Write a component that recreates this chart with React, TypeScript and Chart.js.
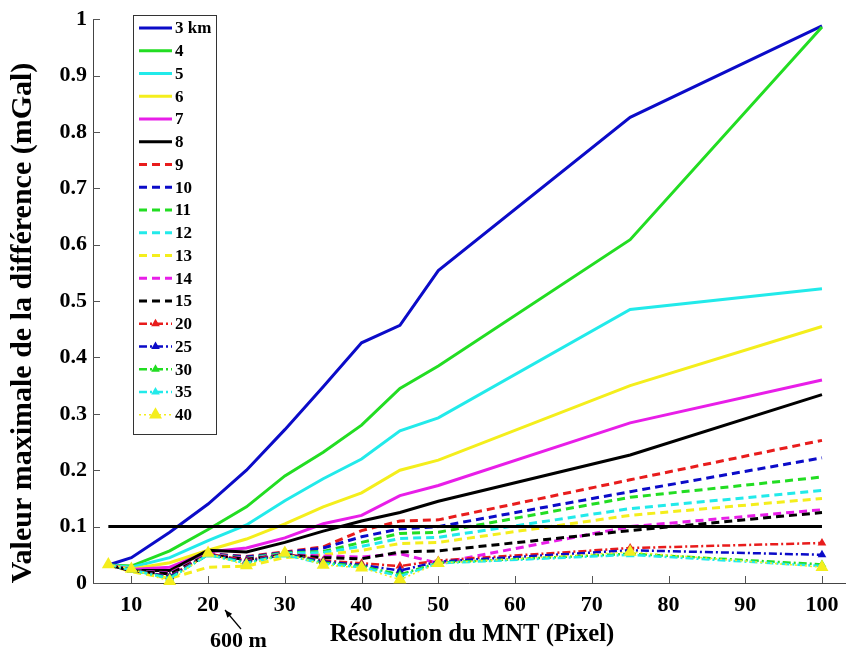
import React, { useEffect, useRef } from "react";
import { Chart, registerables } from "chart.js";

Chart.register(...registerables);

// ---------- data ----------
const resolution = [7, 10, 15, 20, 25, 30, 35, 40, 45, 50, 75, 100];
const xTicks = [10, 20, 30, 40, 50, 60, 70, 80, 90, 100];
const yTicks = [0, 0.1, 0.2, 0.3, 0.4, 0.5, 0.6, 0.7, 0.8, 0.9, 1];
const yTickLabels = ["0", "0.1", "0.2", "0.3", "0.4", "0.5", "0.6", "0.7", "0.8", "0.9", "1"];

const s3km = [0.032, 0.045, 0.09, 0.14, 0.2, 0.272, 0.348, 0.426, 0.457, 0.554, 0.826, 0.988];
const s4 = [0.032, 0.03, 0.057, 0.095, 0.135, 0.19, 0.232, 0.28, 0.345, 0.385, 0.609, 0.986];
const s5 = [0.032, 0.028, 0.045, 0.075, 0.103, 0.146, 0.185, 0.22, 0.27, 0.293, 0.485, 0.522];
const s6 = [0.032, 0.025, 0.036, 0.058, 0.078, 0.105, 0.135, 0.16, 0.2, 0.218, 0.35, 0.455];
const s7 = [0.032, 0.024, 0.028, 0.055, 0.062, 0.08, 0.105, 0.12, 0.155, 0.173, 0.284, 0.36];
const s8 = [0.032, 0.022, 0.022, 0.058, 0.055, 0.072, 0.092, 0.11, 0.125, 0.145, 0.227, 0.334];
const s9 = [0.032, 0.022, 0.018, 0.052, 0.047, 0.055, 0.064, 0.093, 0.11, 0.112, 0.183, 0.253];
const s10 = [0.032, 0.022, 0.017, 0.052, 0.046, 0.054, 0.062, 0.082, 0.096, 0.1, 0.162, 0.222];
const s11 = [0.032, 0.022, 0.016, 0.051, 0.044, 0.053, 0.056, 0.072, 0.088, 0.09, 0.152, 0.188];
const s12 = [0.032, 0.022, 0.016, 0.05, 0.043, 0.052, 0.054, 0.065, 0.079, 0.081, 0.132, 0.164];
const s13 = [0.032, 0.02, 0.008, 0.028, 0.03, 0.045, 0.05, 0.058, 0.07, 0.072, 0.12, 0.15];
const s14 = [0.032, 0.022, 0.017, 0.051, 0.043, 0.05, 0.048, 0.046, 0.052, 0.035, 0.1, 0.13];
const s15 = [0.032, 0.022, 0.016, 0.05, 0.042, 0.05, 0.045, 0.043, 0.055, 0.057, 0.093, 0.125];
const s20 = [0.033, 0.023, 0.012, 0.052, 0.04, 0.052, 0.04, 0.035, 0.03, 0.04, 0.062, 0.071];
const s25 = [0.033, 0.023, 0.011, 0.051, 0.038, 0.051, 0.038, 0.032, 0.022, 0.038, 0.058, 0.05];
const s30 = [0.033, 0.023, 0.009, 0.05, 0.036, 0.05, 0.036, 0.03, 0.015, 0.036, 0.052, 0.033];
const s35 = [0.033, 0.023, 0.008, 0.05, 0.035, 0.05, 0.034, 0.028, 0.012, 0.035, 0.05, 0.03];
const s40 = [0.033, 0.025, 0.003, 0.053, 0.031, 0.053, 0.032, 0.027, 0.006, 0.035, 0.055, 0.028];

const refLineX = [7, 100];
const refLineY = [0.1, 0.1];

const seriesLabels = ["3 km", "4", "5", "6", "7", "8", "9", "10", "11", "12", "13", "14", "15", "20", "25", "30", "35", "40"];
const seriesValues = [s3km, s4, s5, s6, s7, s8, s9, s10, s11, s12, s13, s14, s15, s20, s25, s30, s35, s40];

// ---------- styles ----------
const BLUE = "#0b0bc8";
const GREEN = "#22dd22";
const CYAN = "#22eaea";
const YELLOW = "#f4ee1c";
const MAGENTA = "#e81ee8";
const BLACK = "#000000";
const RED = "#e81c1c";

const FONT = "'Times New Roman', 'Liberation Serif', serif";

type Style = { color: string; dash: number[]; marker: number; width: number };
const SOLID: number[] = [];
const DASH = [8, 5];
const DASHDOT = [8, 3, 2, 3];
const DOT = [2, 3];

const seriesStyles: Style[] = [
  { color: BLUE, dash: SOLID, marker: 0, width: 3 },
  { color: GREEN, dash: SOLID, marker: 0, width: 3 },
  { color: CYAN, dash: SOLID, marker: 0, width: 3 },
  { color: YELLOW, dash: SOLID, marker: 0, width: 3 },
  { color: MAGENTA, dash: SOLID, marker: 0, width: 3 },
  { color: BLACK, dash: SOLID, marker: 0, width: 3 },
  { color: RED, dash: DASH, marker: 0, width: 3 },
  { color: BLUE, dash: DASH, marker: 0, width: 3 },
  { color: GREEN, dash: DASH, marker: 0, width: 3 },
  { color: CYAN, dash: DASH, marker: 0, width: 3 },
  { color: YELLOW, dash: DASH, marker: 0, width: 3 },
  { color: MAGENTA, dash: DASH, marker: 0, width: 3 },
  { color: BLACK, dash: DASH, marker: 0, width: 3 },
  { color: RED, dash: DASHDOT, marker: 5, width: 2.5 },
  { color: BLUE, dash: DASHDOT, marker: 5, width: 2.5 },
  { color: GREEN, dash: DASHDOT, marker: 5, width: 2.5 },
  { color: CYAN, dash: DASHDOT, marker: 5, width: 2.5 },
  { color: YELLOW, dash: DOT, marker: 7.5, width: 1.5 },
];

function drawTriangle(ctx: CanvasRenderingContext2D, x: number, y: number, r: number, color: string) {
  ctx.beginPath();
  let rad = 0;
  const step = (2 * Math.PI) / 3;
  ctx.moveTo(x + Math.sin(rad) * r, y - Math.cos(rad) * r);
  rad += step;
  ctx.lineTo(x + Math.sin(rad) * r, y - Math.cos(rad) * r);
  rad += step;
  ctx.lineTo(x + Math.sin(rad) * r, y - Math.cos(rad) * r);
  ctx.closePath();
  ctx.fillStyle = color;
  ctx.fill();
}

const overlayPlugin = {
  id: "overlay",
  afterDraw(chart: any) {
    const ctx: CanvasRenderingContext2D = chart.ctx;
    const xs = chart.scales.x;
    const ys = chart.scales.y;
    ctx.save();

    // inward tick marks
    ctx.strokeStyle = "#555";
    ctx.lineWidth = 1;
    ctx.setLineDash([]);
    xTicks.forEach((v) => {
      const px = Math.round(xs.getPixelForValue(v)) + 0.5;
      ctx.beginPath();
      ctx.moveTo(px, ys.bottom);
      ctx.lineTo(px, ys.bottom - 7);
      ctx.stroke();
    });
    yTicks.forEach((v) => {
      const py = Math.round(ys.getPixelForValue(v)) + 0.5;
      ctx.beginPath();
      ctx.moveTo(xs.left, py);
      ctx.lineTo(xs.left + 7, py);
      ctx.stroke();
    });

    // axis titles
    ctx.fillStyle = "#000";
    ctx.textAlign = "center";
    ctx.textBaseline = "middle";
    ctx.font = `bold 24.7px ${FONT}`;
    ctx.fillText("Résolution du MNT (Pixel)", 472, 635);

    ctx.save();
    ctx.translate(23, 323);
    ctx.rotate(-Math.PI / 2);
    ctx.font = `bold 30px ${FONT}`;
    ctx.fillText("Valeur maximale de la différence (mGal)", 0, 0);
    ctx.restore();

    // annotation "600 m"
    ctx.font = `bold 22px ${FONT}`;
    ctx.textAlign = "left";
    ctx.fillText("600 m", 210, 641);
    ctx.strokeStyle = "#000";
    ctx.lineWidth = 1.2;
    const tipX = 225, tipY = 610, tailX = 241, tailY = 629;
    ctx.beginPath();
    ctx.moveTo(tailX, tailY);
    ctx.lineTo(tipX, tipY);
    ctx.stroke();
    const ang = Math.atan2(tipY - tailY, tipX - tailX);
    ctx.beginPath();
    ctx.moveTo(tipX, tipY);
    ctx.lineTo(tipX - 8 * Math.cos(ang - 0.4), tipY - 8 * Math.sin(ang - 0.4));
    ctx.lineTo(tipX - 8 * Math.cos(ang + 0.4), tipY - 8 * Math.sin(ang + 0.4));
    ctx.closePath();
    ctx.fillStyle = "#000";
    ctx.fill();

    // legend
    const bx = 133, by = 15, bw = 83, bh = 419;
    ctx.fillStyle = "#fff";
    ctx.fillRect(bx, by, bw, bh);
    ctx.strokeStyle = "#333";
    ctx.lineWidth = 1;
    ctx.strokeRect(bx + 0.5, by + 0.5, bw, bh);
    ctx.font = `bold 17px ${FONT}`;
    ctx.textAlign = "left";
    ctx.textBaseline = "middle";
    seriesLabels.forEach((lab, i) => {
      const st = seriesStyles[i];
      const y = 28 + i * 22.75;
      ctx.save();
      ctx.strokeStyle = st.color;
      ctx.lineWidth = st.width;
      ctx.setLineDash(st.dash);
      ctx.beginPath();
      ctx.moveTo(139, y);
      ctx.lineTo(172, y);
      ctx.stroke();
      ctx.restore();
      if (st.marker > 0) drawTriangle(ctx, 155.5, y, st.marker, st.color);
      ctx.fillStyle = "#000";
      ctx.fillText(lab, 175, y + 1);
    });

    ctx.restore();
  },
};

export default function App() {
  const ref = useRef<HTMLCanvasElement | null>(null);

  useEffect(() => {
    if (!ref.current) return;
    const n = seriesValues.length;
    const datasets: any[] = seriesValues.map((vals, i) => {
      const st = seriesStyles[i];
      return {
        label: seriesLabels[i],
        data: resolution.map((x, k) => ({ x, y: vals[k] })),
        borderColor: st.color,
        backgroundColor: st.color,
        borderWidth: st.width,
        borderDash: st.dash,
        pointStyle: "triangle",
        pointRadius: st.marker,
        pointBorderWidth: 0,
        pointBackgroundColor: st.color,
        pointBorderColor: st.color,
        tension: 0,
        fill: false,
        clip: false,
        order: n - i + 1,
      };
    });
    datasets.push({
      label: "ref",
      data: refLineX.map((x, k) => ({ x, y: refLineY[k] })),
      borderColor: BLACK,
      borderWidth: 3,
      pointRadius: 0,
      fill: false,
      order: 0,
    });

    const chart = new Chart(ref.current, {
      type: "line",
      data: { datasets },
      options: {
        animation: false,
        responsive: false,
        events: [],
        layout: { padding: { left: 0, top: 14, right: 13, bottom: 0 } },
        plugins: {
          legend: { display: false },
          tooltip: { enabled: false },
          title: { display: false },
        },
        scales: {
          x: {
            type: "linear",
            min: 5,
            max: 103,
            afterFit: (s: any) => {
              s.height = 70;
            },
            afterBuildTicks: (s: any) => {
              s.ticks = xTicks.map((v) => ({ value: v }));
            },
            grid: { display: false, drawTicks: false },
            border: { display: true, color: "#444", width: 1 },
            ticks: {
              color: "#000",
              padding: 9,
              maxRotation: 0,
              autoSkip: false,
              font: { family: FONT, size: 22, weight: "bold" },
              callback: (v: any) => String(v),
            },
          },
          y: {
            type: "linear",
            min: 0,
            max: 1,
            afterFit: (s: any) => {
              s.width = 93;
            },
            afterBuildTicks: (s: any) => {
              s.ticks = yTicks.map((v) => ({ value: v }));
            },
            grid: { display: false, drawTicks: false },
            border: { display: true, color: "#444", width: 1 },
            ticks: {
              color: "#000",
              padding: 6,
              autoSkip: false,
              font: { family: FONT, size: 22, weight: "bold" },
              callback: (v: any) => {
                const idx = yTicks.findIndex((t) => Math.abs(t - v) < 1e-9);
                return idx >= 0 ? yTickLabels[idx] : "";
              },
            },
          },
        },
      },
      plugins: [overlayPlugin],
    });
    return () => chart.destroy();
  }, []);

  return (
    <div style={{ position: "fixed", left: 0, top: 0, width: 858, height: 653, background: "#fff" }}>
      <canvas ref={ref} width={858} height={653} style={{ width: 858, height: 653, display: "block" }} />
    </div>
  );
}
